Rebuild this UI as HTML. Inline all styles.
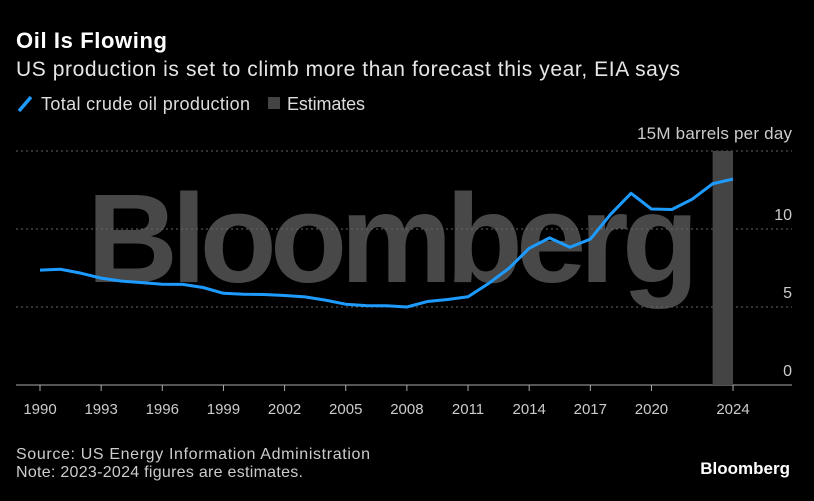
<!DOCTYPE html>
<html><head><meta charset="utf-8"><style>
body{margin:0;background:#000;width:814px;height:496px;overflow:hidden;font-family:"Liberation Sans",sans-serif;color:#fff}
</style></head><body>
<svg width="814" height="496" xmlns="http://www.w3.org/2000/svg">
<text x="16" y="48" font-size="22" font-weight="bold" fill="#fff" textLength="151">Oil Is Flowing</text>
<text x="16" y="76" font-size="21" fill="#e6e6e6" textLength="664">US production is set to climb more than forecast this year, EIA says</text>
<g>
<line x1="19" y1="111" x2="31" y2="97" stroke="#1e9bff" stroke-width="3.5"/>
<text x="41" y="110" font-size="18" fill="#ddd" textLength="209">Total crude oil production</text>
<rect x="268" y="97" width="12" height="12" fill="#444"/>
<text x="287" y="110" font-size="18" fill="#ddd" textLength="78">Estimates</text>
</g>
<text x="792" y="139" font-size="17" fill="#ccc" text-anchor="end" textLength="155">15M barrels per day</text>
<text x="393" y="282" font-size="126" font-weight="bold" fill="#5a5a5a" fill-opacity="0.8" text-anchor="middle" textLength="612">Bloomberg</text>
<g id="grid"></g>
<g id="plot"></g>
<text x="16" y="459" font-size="16" fill="#ccc" textLength="354">Source: US Energy Information Administration</text>
<text x="16" y="477" font-size="16" fill="#ccc" textLength="287">Note: 2023-2024 figures are estimates.</text>
<text x="790" y="474" font-size="17" font-weight="bold" fill="#fff" text-anchor="end">Bloomberg</text>
</svg>
<script>
const years=[1990,1991,1992,1993,1994,1995,1996,1997,1998,1999,2000,2001,2002,2003,2004,2005,2006,2007,2008,2009,2010,2011,2012,2013,2014,2015,2016,2017,2018,2019,2020,2021,2022,2023,2024];
const production=[7.36,7.42,7.17,6.85,6.66,6.56,6.46,6.45,6.25,5.88,5.82,5.80,5.74,5.65,5.44,5.18,5.09,5.08,5.00,5.35,5.48,5.66,6.50,7.47,8.76,9.43,8.83,9.35,10.95,12.29,11.28,11.25,11.91,12.9,13.2];
const estimateRange=[2023,2024];
const yTicks=[0,5,10,15];
const xTicks=[1990,1993,1996,1999,2002,2005,2008,2011,2014,2017,2020,2024];
const NS="http://www.w3.org/2000/svg";
const x=v=>40+(v-1990)*(733-40)/34;
const y=v=>385-v*15.6;
function mk(t,a,p){const e=document.createElementNS(NS,t);for(const k in a)e.setAttribute(k,a[k]);p.appendChild(e);return e;}
const grid=document.getElementById('grid'),plot=document.getElementById('plot');
yTicks.forEach(v=>{
 const l=mk('line',{x1:16,x2:792,y1:y(v),y2:y(v),stroke:v===0?'#aaa':'#666','stroke-dasharray':v===0?'':'2,3'},grid);
 
 
 if(v<15){const t=mk('text',{x:792,y:y(v)-9,'font-size':16,fill:'#ccc','text-anchor':'end'},grid);t.textContent=v;
 
 }
});
const est=mk('rect',{x:x(estimateRange[0]),y:y(15),width:x(estimateRange[1])-x(estimateRange[0]),height:y(0)-y(15),fill:'#444'},plot);


xTicks.forEach(v=>{
 const l=mk('line',{x1:x(v),x2:x(v),y1:385,y2:391,stroke:'#aaa'},plot);
 
 
 const t=mk('text',{x:x(v),y:414,'font-size':15,fill:'#ccc','text-anchor':'middle'},plot);t.textContent=v;
 
 
});
const line=mk('polyline',{points:years.map((yr,i)=>x(yr)+','+y(production[i])).join(' '),fill:'none',stroke:'#1e9bff','stroke-width':3,'stroke-linejoin':'round'},plot);


</script>
</body></html>
